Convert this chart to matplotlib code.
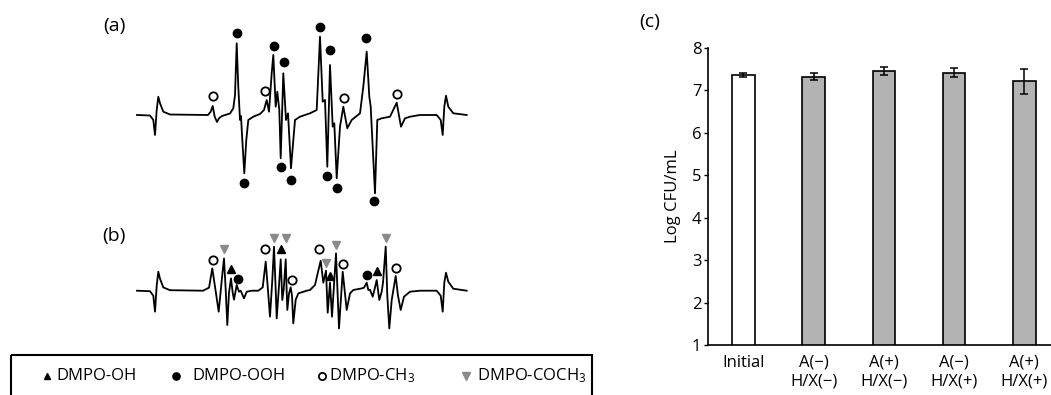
import matplotlib
matplotlib.use("Agg")
import matplotlib.pyplot as plt
from matplotlib.patches import Rectangle

plt.rcParams['font.family'] = ['Open Sans', 'DejaVu Sans']
plt.rcParams['mathtext.default'] = 'regular'

# ---- EPR spectrum (a): traced vertices (field in a.u., signal in a.u.)
field_a = [137, 150, 153.3, 155, 156.7, 158.3, 160, 163.3, 170,
           208, 210.7, 212.7, 214.7, 217, 219, 222, 230,
           233.3, 235, 236.7, 238.3, 240, 241, 242.3, 244.3, 246.3, 248.3, 253.3,
           260, 264, 266.7, 269,
           271.7, 273.3, 275.7, 277.3, 279.3, 280.7,
           283.3, 286, 288, 291, 295, 300, 310, 316.7,
           320, 322.7, 325, 327.3,
           330, 332.7, 334.3, 336.7, 340,
           343.3, 347.3, 351.7, 360,
           363.3, 366.7, 369.3, 370.7, 375, 377.3, 381.7, 390,
           396.7, 401, 405, 410, 420,
           436.7, 440.7, 442.7, 444.3, 446, 448.3, 453.3, 466.7]
signal_a = [0, -0.5, -5, -20, 5, 18.3, 11.7, 3.3, 0.5,
            0, 3.3, 9, -1.7, -7, -3.3, -1, 1.5,
            6.7, 20, 71.7, 28, -5, -1, -25, -58.3, -25, -5, -1.7,
            1, 5, 15, 3.3,
            41.7, 60, 8.3, 23.3, 5, -43.3,
            41.7, -5, 1.7, -53.3, -5, -1.7, 1.7, 5,
            78.3, 13.3, 15, -51.7,
            50, -11.7, -8.3, -63.3, -11.7,
            8.3, -13.3, -5, 1.7,
            28.3, 63.3, 18.3, 8.3, -78.3, -5, -3.3, -1.7,
            12.3, -11.7, -3.3, -1.7, 0,
            0, -5, -20, 8.3, 19.3, 8.3, 1.7, 0]

# peak labels (a)
ooh_top_x = [236.7, 274, 284, 320.3, 329.7, 366.3]
ooh_top_y = [81.7, 69.3, 53, 87.7, 65, 77.3]
ooh_bot_x = [244, 281, 291, 327, 337, 374.3]
ooh_bot_y = [-67.7, -51.7, -65, -60.7, -73.3, -86]
ch3_a_x = [212.7, 265.3, 344, 396.7]
ch3_a_y = [19, 24.3, 16.7, 20.7]

# ---- EPR spectrum (b)
field_b = [137, 150, 153.3, 155, 156.7, 158.3, 160, 163.3, 170,
           203, 209, 212.3, 215, 218.7, 221.7, 224, 225.7, 227.3, 229, 231, 232.7,
           234, 236.7, 239, 240.7, 244, 246.7, 251.7,
           258.3, 262.7, 265.7, 267.7, 270, 272.3, 274, 275.7, 276.7, 278.7, 280.7,
           282.3, 283.7, 285.7, 287.3, 289, 290.7, 292, 293.3, 295.7, 298.3, 306.7,
           310, 315, 318.3, 320.7, 323.3, 326, 327.7, 330, 332, 336, 339, 342.7,
           346.7, 350, 353.3,
           361.7, 364, 366.7, 368.3, 370, 372.7, 374.7, 376.7, 379.3, 381.7, 383,
           385.7, 387.3, 389.3, 391.7, 395.7, 398, 400.7, 404, 410, 420,
           436.7, 440.7, 442.7, 444.3, 446, 448.3, 453.3, 466.7]
signal_b = [0, -0.5, -5, -21, 5, 19, 12, 3.3, 0.5,
            0, 3, 22.3, 4, -21, 10, 32.3, 1, -34.3, -2, 12.3, -2,
            -9, 5.7, -1, 0, -7.7, -1, 0,
            0, 3.3, 29, 4, -26, 10.7, 44, 0.7, -27.7, 0.7, 31.3,
            -9.3, 1, 31.3, -19.3, -3, 3.3, -5, -32.7, -9, -2.7, 0,
            0.7, 5.7, 20, 30, 8, 20, -22, 8, -26, 37.3, -37.7, 19,
            -19.3, -2.7, 0.7,
            2.3, 3, 8, 0.7, 1, -6, 2, 10.7, -9.3, -1, 8,
            44, -5, -37.7, -9.3, 14.7, -5, -19.3, -6, -1, 0,
            0, -5, -21, 8, 18, 9, 2, 0]

# peak labels (b)
coch3_x = [224.3, 274, 285.7, 325.7, 335.7, 385.7]
coch3_y = [41.4, 53, 53, 28, 45.7, 53]
oh_x = [230.7, 280.7, 330, 376.7]
oh_y = [21.7, 41.4, 14.7, 19.7]
ooh_b_x = [238.3, 366.7]
ooh_b_y = [11.7, 15.7]
ch3_b_x = [212.7, 265, 292.3, 319.3, 343.3, 395.7]
ch3_b_y = [30.4, 41.4, 10.7, 41.4, 26.4, 22.4]

# legend
legend_labels = ['DMPO-OH', 'DMPO-OOH', 'DMPO-CH$_3$', 'DMPO-COCH$_3$']

# ---- bar chart (c)
groups = ['Initial', 'A(\u2212)\nH/X(\u2212)', 'A(+)\nH/X(\u2212)',
          'A(\u2212)\nH/X(+)', 'A(+)\nH/X(+)']
log_cfu = [7.36, 7.32, 7.45, 7.41, 7.21]
log_err = [0.04, 0.09, 0.10, 0.11, 0.29]
bar_colors = ['white', '#b3b3b3', '#b3b3b3', '#b3b3b3', '#b3b3b3']

W, H = 1051, 395
fig = plt.figure(figsize=(W / 100, H / 100), dpi=100)


def px_axes(x0, x1, y_top, y_bot):
    return fig.add_axes([x0 / W, 1 - y_bot / H, (x1 - x0) / W, (y_bot - y_top) / H])


dot = dict(ls='none', marker='o', ms=6, color='black', clip_on=False)
ring = dict(ls='none', marker='o', ms=6, mfc='white', mec='black', mew=1.3, clip_on=False)
up = dict(ls='none', marker='^', ms=5.5, color='black', clip_on=False)
down = dict(ls='none', marker='v', ms=6, color='#8a8a8a', clip_on=False)

ax_a = px_axes(130, 480, 15, 215)
ax_a.plot(field_a, signal_a, color='black', lw=1.3, solid_joinstyle='round')
ax_a.plot(ooh_top_x, ooh_top_y, **dot)
ax_a.plot(ooh_bot_x, ooh_bot_y, **dot)
ax_a.plot(ch3_a_x, ch3_a_y, **ring)
ax_a.set_xlim(130, 480)
ax_a.set_ylim(-100, 100)
ax_a.axis('off')

ax_b = px_axes(130, 480, 225, 335)
ax_b.plot(field_b, signal_b, color='black', lw=1.3, solid_joinstyle='round')
ax_b.plot(coch3_x, coch3_y, **down)
ax_b.plot(oh_x, oh_y, **up)
ax_b.plot(ooh_b_x, ooh_b_y, **dot)
ax_b.plot(ch3_b_x, ch3_b_y, **ring)
ax_b.set_xlim(130, 480)
ax_b.set_ylim(-44.3, 65.7)
ax_b.axis('off')

# overlay for labels and legend box
ov = fig.add_axes([0, 0, 1, 1], zorder=-1)
ov.set_xlim(0, W)
ov.set_ylim(H, 0)
ov.axis('off')
ov.text(126, 26, '(a)', ha='right', va='center', fontsize=14)
ov.text(126, 236, '(b)', ha='right', va='center', fontsize=14)
ov.text(650, 22, '(c)', ha='center', va='center', fontsize=14)
ov.add_patch(Rectangle((10.7, 355), 581, 60, fill=False, lw=1.5, ec='black', clip_on=False))
leg_mk_x = [46.7, 176, 321.6, 466]
leg_txt_x = [56.7, 192.6, 329, 476.7]
styles = [up, dot, ring, down]
for mx, tx, lab, st in zip(leg_mk_x, leg_txt_x, legend_labels, styles):
    s = dict(st)
    s['ms'] = s['ms'] - 0.8
    ov.plot([mx], [376], **s)
    ov.text(tx, 376, lab, ha='left', va='center', fontsize=12)

# bar chart
ax_c = px_axes(708.3, 1051, 47.7, 345)
xs = range(len(groups))
ax_c.bar(xs, log_cfu, width=0.32, color=bar_colors, edgecolor='black', lw=1.2,
         yerr=log_err, capsize=2.6, error_kw=dict(elinewidth=1.1, capthick=1.1, ecolor='black'))
ax_c.set_xlim(-0.5, 4.38)
ax_c.set_ylim(1, 8)
ax_c.set_yticks(range(1, 9))
ax_c.set_xticks(list(xs))
ax_c.set_xticklabels(groups, fontsize=12)
ax_c.tick_params(axis='y', labelsize=12, length=3, width=1, pad=2)
ax_c.tick_params(axis='x', length=0, pad=7)
ax_c.set_ylabel('Log CFU/mL', fontsize=12, labelpad=8)
for sp in ['top', 'right']:
    ax_c.spines[sp].set_visible(False)
for sp in ['left', 'bottom']:
    ax_c.spines[sp].set_linewidth(1.2)

fig.savefig('out.png', dpi=100)
